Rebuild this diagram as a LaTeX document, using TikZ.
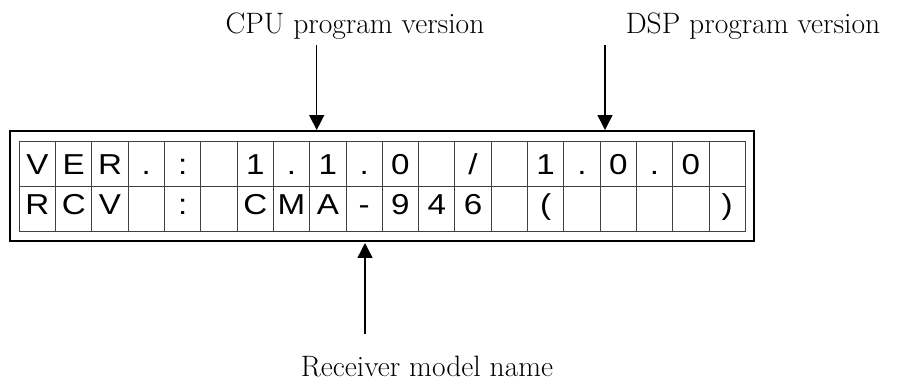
\documentclass[tikz,border=0pt]{standalone}
\usepackage{fontspec}
\newfontfamily\lcdfont[FakeStretch=1.15]{Liberation Sans}
\usetikzlibrary{arrows.meta,positioning}

\begin{document}
\begin{tikzpicture}[x=0.025cm, y=-0.025cm,
  cell/.style={draw=black!75, line width=0.6pt, minimum width=0.9075cm,
    minimum height=1.125cm, inner sep=0pt, text height=14.7pt, text depth=0pt,
    font=\lcdfont\fontsize{20.5}{24}\selectfont},
  lowcell/.style={cell, minimum height=1.1125cm, text depth=7pt},
  lbl/.style={anchor=base, inner sep=2pt, font=\fontsize{21}{25}\selectfont},
  frame/.style={draw, line width=1.4pt, minimum width=18.6cm,
    minimum height=2.75cm, inner sep=0pt},
  arr/.style={-{Triangle[length=3.7mm, width=3.7mm]}, line width=1pt}
]
\useasboundingbox (0,0) rectangle (898,383);

% display frame
\node[frame] (lcd) at (382,186) {};

% first line: versions
\foreach \ch [count=\i] in {V,E,R,.,:,{},1,.,1,.,0,{},{/},{},1,.,0,.,0,{}}
  \node[cell] (a\i) at ({19.3+36.3*(\i-0.5)},164) {\ch};
% second line: receiver
\foreach \ch [count=\i] in {R,C,V,{},:,{},C,M,A,-,9,4,6,{},{(},{},{},{},{},{)}}
  \node[lowcell] (b\i) at ({19.3+36.3*(\i-0.5)},208.75) {\ch};

% labels
\node[lbl] (cpu) at (355,33) {CPU program version};
\node[lbl] (dsp) at (753,33) {DSP program version};
\node[lbl] (rcv) at (427,376) {Receiver model name};

\coordinate (cpuTip) at (316.7,130);
\coordinate (dspTip) at (605,130);
\coordinate (rcvTip) at (365,243);

\draw[arr, shorten <=0.08cm] (cpu.south -| cpuTip) -- (cpuTip);
\draw[arr, shorten <=0.08cm] (dsp.south -| dspTip) -- (dspTip);
\draw[arr, shorten <=0.47cm] (rcv.north -| rcvTip) -- (rcvTip);
\end{tikzpicture}
\end{document}
